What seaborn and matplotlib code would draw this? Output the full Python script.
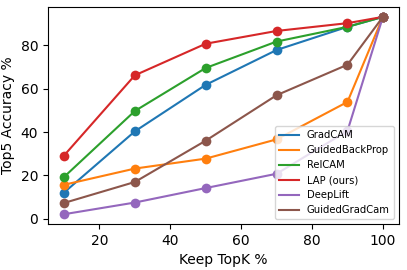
import matplotlib
matplotlib.use("Agg")
import matplotlib.pyplot as plt
from matplotlib.lines import Line2D
import seaborn as sns
import pandas as pd

keep_topk = [10, 30, 50, 70, 90, 100]
methods = ["GradCAM", "GuidedBackProp", "RelCAM", "LAP (ours)", "DeepLift", "GuidedGradCam"]
gradcam = [12.0, 40.3, 61.8, 77.9, 88.6, 93.2]
guided_backprop = [15.6, 23.1, 27.7, 36.6, 53.9, 93.2]
relcam = [19.2, 49.7, 69.6, 81.8, 88.6, 93.2]
lap = [29.1, 66.2, 80.8, 86.7, 90.3, 93.2]
deeplift = [2.0, 7.4, 14.1, 20.7, 40.5, 93.2]
guided_gradcam = [7.2, 16.9, 36.0, 57.0, 71.1, 93.2]
series = [gradcam, guided_backprop, relcam, lap, deeplift, guided_gradcam]

rows = []
for m, vals in zip(methods, series):
    for k, v in zip(keep_topk, vals):
        rows.append({"Keep TopK %": k, "Top5 Accuracy %": v, "method": m})
df = pd.DataFrame(rows)

palette = sns.color_palette("tab10", len(methods))
fig, ax = plt.subplots(figsize=(4.07, 2.7), dpi=100)
sns.lineplot(data=df, x="Keep TopK %", y="Top5 Accuracy %", hue="method",
             hue_order=methods, palette=palette, marker="o", markersize=7,
             markeredgewidth=0, linewidth=1.5, ax=ax, legend=False)
handles = [Line2D([0], [0], color=c, lw=1.5) for c in palette]
ax.legend(handles, methods, loc="lower right", fontsize=7.2)
ax.set_xticks([20, 40, 60, 80, 100])
ax.set_yticks([0, 20, 40, 60, 80])
fig.subplots_adjust(left=0.118, right=0.980, top=0.974, bottom=0.170)
fig.savefig("out.png", dpi=100)
